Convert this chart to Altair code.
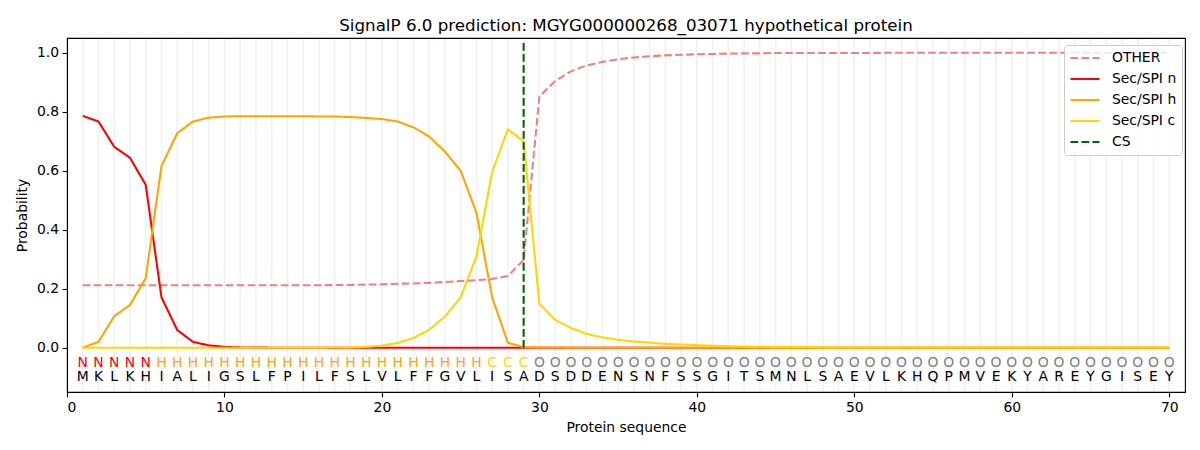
import altair as alt
import pandas as pd

positions = list(range(1, 71))
sequence = list("MKLKHIALIGSLFPILFSLVLFFGVLISADSDDENSNFSSGITSMNLSAEVLKHQPMVEKYAREYGISEY")
region_labels = list(
    "NNNNN"
    "HHHHHHHHHHHHHHHHHHHHH"
    "CCC"
    "OOOOOOOOOOOOOOOOOOOOOOOOOOOOOOOOOOOOOOOOO"
)

other = [
    0.212, 0.212, 0.212, 0.212, 0.212, 0.212, 0.212, 0.212, 0.212, 0.212,
    0.212, 0.212, 0.212, 0.212, 0.212, 0.212, 0.213, 0.213, 0.214, 0.215,
    0.217, 0.218, 0.220, 0.223, 0.226, 0.229, 0.233, 0.243, 0.298, 0.852,
    0.904, 0.937, 0.957, 0.969, 0.978, 0.984, 0.988, 0.991, 0.993, 0.995,
    0.996, 0.997, 0.998, 0.998, 0.999, 0.999, 0.999, 0.999, 0.999, 0.999,
    0.999, 1.000, 1.000, 1.000, 1.000, 1.000, 1.000, 1.000, 1.000, 1.000,
    1.000, 1.000, 1.000, 1.000, 1.000, 1.000, 1.000, 1.000, 1.000, 1.000,
]
sec_n = [
    0.786, 0.767, 0.681, 0.644, 0.552, 0.171, 0.060, 0.020, 0.008, 0.003,
    0.001, 0.001, 0.000, 0.000, 0.000, 0.000, 0.000, 0.000, 0.000, 0.000,
    0.000, 0.000, 0.000, 0.000, 0.000, 0.000, 0.000, 0.000, 0.000, 0.000,
    0.000, 0.000, 0.000, 0.000, 0.000, 0.000, 0.000, 0.000, 0.000, 0.000,
    0.000, 0.000, 0.000, 0.000, 0.000, 0.000, 0.000, 0.000, 0.000, 0.000,
    0.000, 0.000, 0.000, 0.000, 0.000, 0.000, 0.000, 0.000, 0.000, 0.000,
    0.000, 0.000, 0.000, 0.000, 0.000, 0.000, 0.000, 0.000, 0.000, 0.000,
]
sec_h = [
    0.000, 0.020, 0.107, 0.145, 0.236, 0.616, 0.727, 0.767, 0.780, 0.784,
    0.785, 0.785, 0.785, 0.785, 0.785, 0.784, 0.784, 0.782, 0.779, 0.775,
    0.767, 0.747, 0.716, 0.665, 0.600, 0.458, 0.171, 0.017, 0.002, 0.001,
    0.001, 0.000, 0.000, 0.000, 0.000, 0.000, 0.000, 0.000, 0.000, 0.000,
    0.000, 0.000, 0.000, 0.000, 0.000, 0.000, 0.000, 0.000, 0.000, 0.000,
    0.000, 0.000, 0.000, 0.000, 0.000, 0.000, 0.000, 0.000, 0.000, 0.000,
    0.000, 0.000, 0.000, 0.000, 0.000, 0.000, 0.000, 0.000, 0.000, 0.000,
]
sec_c = [
    0.000, 0.000, 0.000, 0.000, 0.000, 0.000, 0.000, 0.000, 0.000, 0.000,
    0.000, 0.000, 0.000, 0.000, 0.000, 0.000, 0.001, 0.001, 0.003, 0.007,
    0.016, 0.033, 0.061, 0.106, 0.171, 0.309, 0.596, 0.740, 0.700, 0.149,
    0.095, 0.067, 0.047, 0.035, 0.027, 0.021, 0.017, 0.013, 0.011, 0.009,
    0.007, 0.005, 0.004, 0.003, 0.002, 0.002, 0.002, 0.001, 0.001, 0.001,
    0.001, 0.001, 0.001, 0.001, 0.001, 0.001, 0.001, 0.001, 0.001, 0.001,
    0.001, 0.001, 0.001, 0.001, 0.001, 0.001, 0.001, 0.001, 0.001, 0.001,
]
cs_position = [29]

series_names = ["OTHER", "Sec/SPI n", "Sec/SPI h", "Sec/SPI c", "CS"]
series_colors = ["#f08080", "#ff0000", "#ffa500", "#ffd700", "#006400"]
dash = [7.7, 3.3]
series_dashes = [dash, [1, 0], [1, 0], [1, 0], dash]

df = pd.DataFrame({
    "pos": positions, "aa": sequence, "lab": region_labels,
    "OTHER": other, "Sec/SPI n": sec_n, "Sec/SPI h": sec_h, "Sec/SPI c": sec_c,
})
long = df.melt(id_vars=["pos"], value_vars=series_names[:4],
               var_name="series", value_name="value")
df_cs = pd.DataFrame({"pos": cs_position, "series": ["CS"]})

FONT = "DejaVu Sans"
xscale = alt.Scale(domain=[0, 71], nice=False, zero=False)
yscale = alt.Scale(domain=[-0.15, 1.05], nice=False, zero=False)
xaxis = alt.Axis(title="Protein sequence", values=[0, 10, 20, 30, 40, 50, 60, 70],
                 grid=False, format="d")
yaxis = alt.Axis(title="Probability", values=[0, 0.2, 0.4, 0.6, 0.8, 1.0],
                 grid=False, format=".1f")

legend = alt.Legend(
    title=None, orient="none", legendX=997, legendY=7,
    symbolType="stroke", symbolSize=841, symbolStrokeWidth=2.08,
    labelFontSize=13.9, labelFont=FONT, labelColor="black", labelOffset=11,
    padding=5, rowPadding=5, clipHeight=16,
    strokeColor="#cccccc", fillColor="rgba(255,255,255,0.8)", cornerRadius=3,
)
color = alt.Color("series:N", scale=alt.Scale(domain=series_names, range=series_colors),
                  legend=legend)
strokedash = alt.StrokeDash("series:N", scale=alt.Scale(domain=series_names, range=series_dashes),
                            legend=legend)

base = alt.Chart(df)

grid = base.mark_rule(color="#f0f0f0", strokeWidth=1.5).encode(
    x=alt.X("pos:Q", scale=xscale, axis=xaxis),
    y=alt.Y(datum=-0.147, scale=yscale, axis=yaxis),
    y2=alt.datum(1.047),
)

lines = []
for name in series_names[:4]:
    lines.append(
        alt.Chart(long).transform_filter(alt.datum.series == name)
        .mark_line(strokeWidth=2.08)
        .encode(
            x=alt.X("pos:Q", scale=xscale, axis=xaxis),
            y=alt.Y("value:Q", scale=yscale, axis=yaxis),
            color=color, strokeDash=strokedash,
        )
    )

cs = alt.Chart(df_cs).mark_rule(strokeWidth=2.08).encode(
    x=alt.X("pos:Q", scale=xscale, axis=xaxis),
    y=alt.Y(datum=0, scale=yscale, axis=yaxis),
    y2=alt.datum(1.04),
    color=color, strokeDash=strokedash,
)

label_colors = {"N": "#ff0000", "H": "#ffa500", "C": "#ffd700", "O": "#808080"}
texts = []
for lab, col in label_colors.items():
    texts.append(
        base.transform_filter(alt.datum.lab == lab)
        .mark_text(font=FONT, fontSize=13.9, color=col, baseline="middle", align="center")
        .encode(
            x=alt.X("pos:Q", scale=xscale, axis=xaxis),
            y=alt.Y(datum=-0.05, scale=yscale, axis=yaxis),
            text="lab:N",
        )
    )
aa_text = base.mark_text(font=FONT, fontSize=13.9, color="black", baseline="middle",
                         align="center").encode(
    x=alt.X("pos:Q", scale=xscale, axis=xaxis),
    y=alt.Y(datum=-0.10, scale=yscale, axis=yaxis),
    text="aa:N",
)

chart = alt.layer(grid, *lines, cs, *texts, aa_text).properties(
    width=1118, height=354,
    title=alt.TitleParams(
        text="SignalP 6.0 prediction: MGYG000000268_03071 hypothetical protein",
        fontSize=16.7, font=FONT, fontWeight="normal", anchor="middle",
        frame="group", offset=5, dy=19, baseline="bottom", color="black",
    ),
    autosize=alt.AutoSizeParams(type="none"),
    padding={"left": 59, "top": 30, "right": 7, "bottom": 50},
).configure_axis(
    labelFont=FONT, labelFontSize=13.9, labelColor="black",
    titleFont=FONT, titleFontSize=13.9, titleFontWeight="normal", titleColor="black",
    domainColor="black", domainWidth=1.1, tickColor="black", tickWidth=1.1,
    tickSize=4.9, labelPadding=3.5,
).configure_axisX(titlePadding=6).configure_axisY(titlePadding=7).configure_view(
    stroke="black", strokeWidth=1.1
)

chart.save("out.html", embed_options={"renderer": "svg", "actions": False})
